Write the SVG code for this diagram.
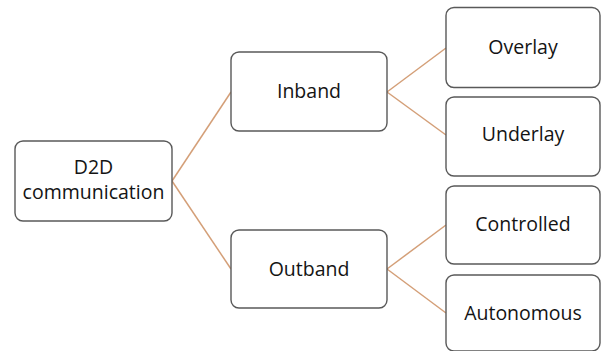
<svg xmlns="http://www.w3.org/2000/svg" width="601" height="351" viewBox="0 0 601 351">
<style>
.box{fill:#ffffff;stroke:#595959;stroke-width:1.4}
.lbl{font-family:"Open Sans","Noto Sans",sans-serif;font-size:19.5px;fill:#141414;text-anchor:middle}
.conn{stroke:#d49f78;stroke-width:1.5;fill:none}
</style>
<rect width="601" height="351" fill="#ffffff"/>
<g id="connectors">
<line class="conn" x1="172" y1="181" x2="231" y2="92"/>
<line class="conn" x1="172" y1="181" x2="231" y2="269"/>
<line class="conn" x1="387" y1="92" x2="446" y2="48"/>
<line class="conn" x1="387" y1="92" x2="446" y2="135"/>
<line class="conn" x1="387" y1="269" x2="446" y2="225"/>
<line class="conn" x1="387" y1="269" x2="446" y2="313"/>
</g>
<g id="d2d">
<rect class="box" x="15" y="141" width="157" height="80" rx="8"/>
<text class="lbl" x="93.5" y="174">D2D</text>
<text class="lbl" x="93.5" y="199">communication</text>
</g>
<g id="inband">
<rect class="box" x="231" y="52" width="156" height="79" rx="8"/>
<text class="lbl" x="309" y="98">Inband</text>
</g>
<g id="outband">
<rect class="box" x="231" y="230" width="156" height="78" rx="8"/>
<text class="lbl" x="309" y="276">Outband</text>
</g>
<g id="overlay">
<rect class="box" x="446" y="7.5" width="154" height="80" rx="8"/>
<text class="lbl" x="523" y="54">Overlay</text>
</g>
<g id="underlay">
<rect class="box" x="446" y="97" width="154" height="79" rx="8"/>
<text class="lbl" x="523" y="141">Underlay</text>
</g>
<g id="controlled">
<rect class="box" x="446" y="186" width="154" height="78" rx="8"/>
<text class="lbl" x="523" y="231">Controlled</text>
</g>
<g id="autonomous">
<rect class="box" x="446" y="275" width="154" height="76" rx="8"/>
<text class="lbl" x="523" y="320">Autonomous</text>
</g>
</svg>
